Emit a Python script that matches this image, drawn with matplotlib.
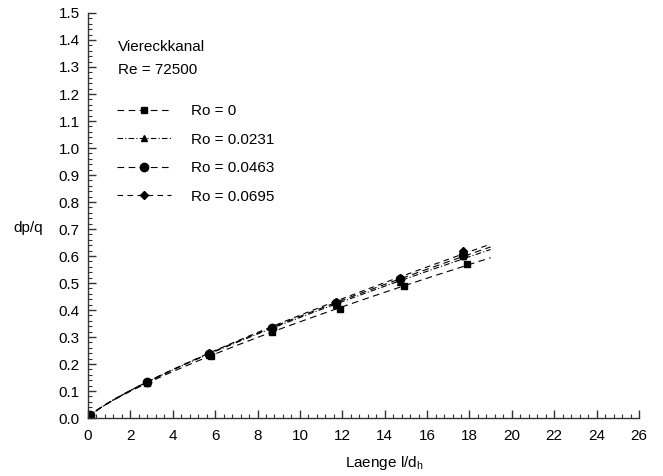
import numpy as np
import matplotlib
matplotlib.use("Agg")
import matplotlib.pyplot as plt
from matplotlib.ticker import MultipleLocator, FormatStrFormatter

plt.rcParams['font.family'] = ['Liberation Sans', 'DejaVu Sans']

# Measured pressure loss along the square duct
labels = ["Ro = 0", "Ro = 0.0231", "Ro = 0.0463", "Ro = 0.0695"]
x_ro0 = [0.1, 2.8, 5.8, 8.7, 11.9, 14.9, 17.9]
y_ro0 = [0.01, 0.13, 0.23, 0.32, 0.405, 0.49, 0.57]
x_ro1 = [0.1, 2.8, 5.7, 8.7, 11.7, 14.7, 17.7]
y_ro1 = [0.01, 0.135, 0.235, 0.33, 0.42, 0.505, 0.60]
x_ro2 = [0.1, 2.8, 5.7, 8.7, 11.7, 14.7, 17.7]
y_ro2 = [0.01, 0.135, 0.238, 0.333, 0.425, 0.515, 0.605]
x_ro3 = [0.1, 2.8, 5.7, 8.7, 11.7, 14.7, 17.7]
y_ro3 = [0.01, 0.135, 0.24, 0.335, 0.428, 0.52, 0.62]
fit_end = 19.0

xs = [x_ro0, x_ro1, x_ro2, x_ro3]
ys = [y_ro0, y_ro1, y_ro2, y_ro3]
markers = ["s", "^", "o", "D"]
msizes = [4.5, 5.0, 6.0, 4.5]
dashes = [(6, 4), (5, 2, 1, 2), (6, 4), (5, 4)]

fig = plt.figure(figsize=(6.63, 4.76), dpi=100)
ax = fig.add_axes([0.1327, 0.1218, 0.8311, 0.8509])

for x, y, lab, m, ms, d in zip(xs, ys, labels, markers, msizes, dashes):
    x = np.asarray(x)
    y = np.asarray(y)
    # power-law trend line  y = a * x^b  through the measurements
    b, loga = np.polyfit(np.log(x[1:]), np.log(y[1:]), 1)
    xf = np.linspace(0, fit_end, 200)
    yf = np.exp(loga) * xf ** b
    ax.plot(xf, yf, color="black", lw=0.8, dashes=d)
    ax.plot(x, y, linestyle="none", marker=m, ms=ms, color="black")
    ax.plot([], [], color="black", lw=0.8, dashes=d, marker=m, ms=ms, label=lab)

ax.set_xlim(0, 26)
ax.set_ylim(0, 1.5)
ax.xaxis.set_major_locator(MultipleLocator(2))
ax.xaxis.set_minor_locator(MultipleLocator(0.4))
ax.yaxis.set_major_locator(MultipleLocator(0.1))
ax.yaxis.set_minor_locator(MultipleLocator(0.02))
ax.xaxis.set_major_formatter(FormatStrFormatter("%d"))
ax.yaxis.set_major_formatter(FormatStrFormatter("%.1f"))

for s in ["top", "right"]:
    ax.spines[s].set_visible(False)
for s in ["left", "bottom"]:
    ax.spines[s].set_linewidth(1.0)
    ax.spines[s].set_color("#333333")

ax.tick_params(which="major", direction="in", length=6, width=1.0, color="#333333",
               labelsize=11)
ax.tick_params(which="minor", direction="in", length=3.2, width=0.8, color="#333333")
ax.tick_params(axis="x", which="major", pad=8)
ax.tick_params(axis="y", which="major", pad=6)

ax.text(0.055, 0.916, "Viereckkanal", transform=ax.transAxes, fontsize=11, va="center")
ax.text(0.055, 0.859, "Re = 72500", transform=ax.transAxes, fontsize=11, va="center")

leg = ax.legend(loc="upper left", bbox_to_anchor=(0.042, 0.79), frameon=False,
                fontsize=11, handlelength=3.5, handletextpad=1.3, labelspacing=0.95,
                borderaxespad=0)

fig.text(28 / 663, 1 - 228 / 476, "dp/q", fontsize=11, ha="center", va="center")
fig.text(384 / 663, 1 - 463 / 476, "Laenge l/d$_\\mathregular{h}$", fontsize=11,
         ha="center", va="center")

fig.savefig("out.png", dpi=100)
